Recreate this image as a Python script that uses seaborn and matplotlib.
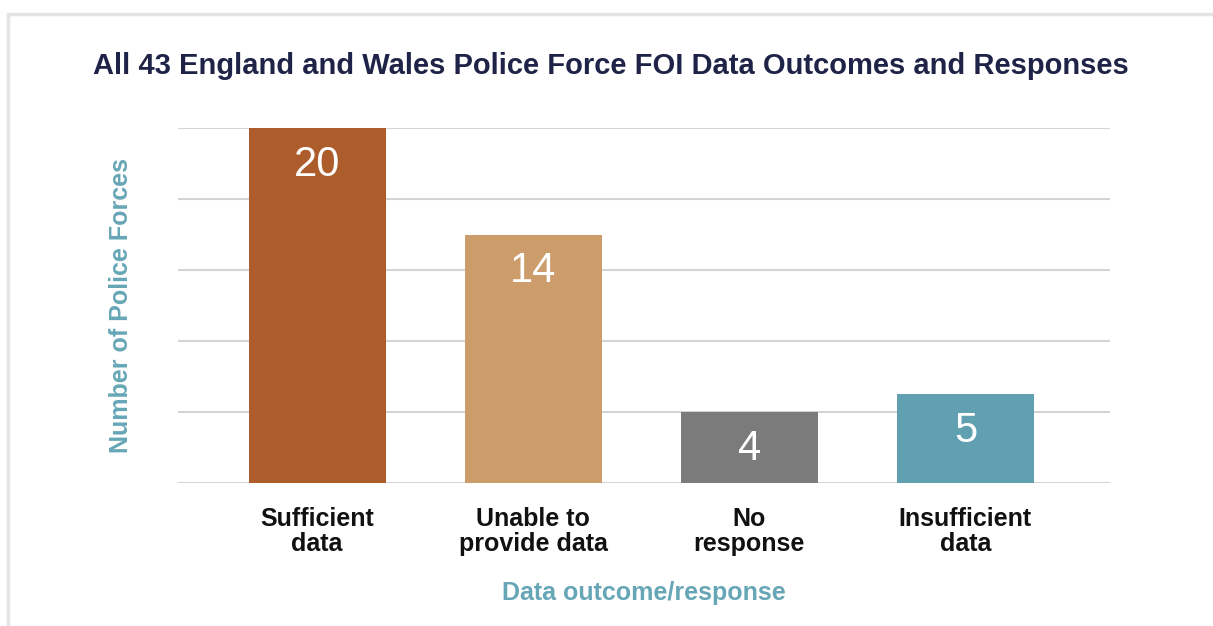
import matplotlib
matplotlib.use("Agg")
import matplotlib.pyplot as plt
import seaborn as sns
import pandas as pd
from matplotlib.patches import Rectangle

categories = ["Sufficient\ndata", "Unable to\nprovide data", "No\nresponse", "Insufficient\ndata"]
forces = [20, 14, 4, 5]
bar_colors = ["#AD5C2B", "#CD9C6B", "#7B7B7B", "#61A0B1"]

sns.set_style("white")
plt.rcParams["font.family"] = ["Liberation Sans", "DejaVu Sans"]

df = pd.DataFrame({"category": categories, "forces": forces})

W, H = 1213, 626
fig = plt.figure(figsize=(W / 100, H / 100), dpi=100)
ax = fig.add_axes([178 / W, (H - 483) / H, (1110 - 178) / W, (483 - 128) / H])

sns.barplot(data=df, x="category", y="forces", hue="category", palette=bar_colors,
            width=0.635, saturation=1, legend=False, linewidth=0, ax=ax)

ax.set_ylim(0, 20)
ax.set_xlim(-0.644, 3.669)
ax.set_yticks([0, 4, 8, 12, 16, 20])
ax.set_yticklabels([])
ax.yaxis.grid(True, color="#D4D4D4", linewidth=1.5)
ax.set_axisbelow(True)
for s in ax.spines.values():
    s.set_visible(False)
ax.tick_params(axis="both", length=0)
ax.tick_params(axis="x", pad=17)
for lbl in ax.get_xticklabels():
    lbl.set_fontsize(18)
    lbl.set_fontweight("bold")
    lbl.set_color("#111111")
    lbl.set_linespacing(1.05)

for i, v in enumerate(forces):
    ax.annotate(str(v), (i, v), xytext=(0, -37 * 0.72), textcoords="offset points",
                ha="center", va="center", color="white", fontsize=30)

ax.set_xlabel("Data outcome/response", fontsize=18, fontweight="bold", color="#66A6B6", labelpad=18)
ax.set_ylabel("Number of Police Forces", fontsize=18, fontweight="bold", color="#66A6B6", labelpad=29)

fig.text(611 / W, 1 - 66 / H, "All 43 England and Wales Police Force FOI Data Outcomes and Responses",
         ha="center", va="center", fontsize=21, fontweight="bold", color="#1F2347")

fig.add_artist(Rectangle((8 / W, -0.1), 1.2, 1.1 - 14 / H, transform=fig.transFigure,
                         fill=False, edgecolor="#E4E4E4", linewidth=2.5))

fig.savefig("out.png", dpi=100)
